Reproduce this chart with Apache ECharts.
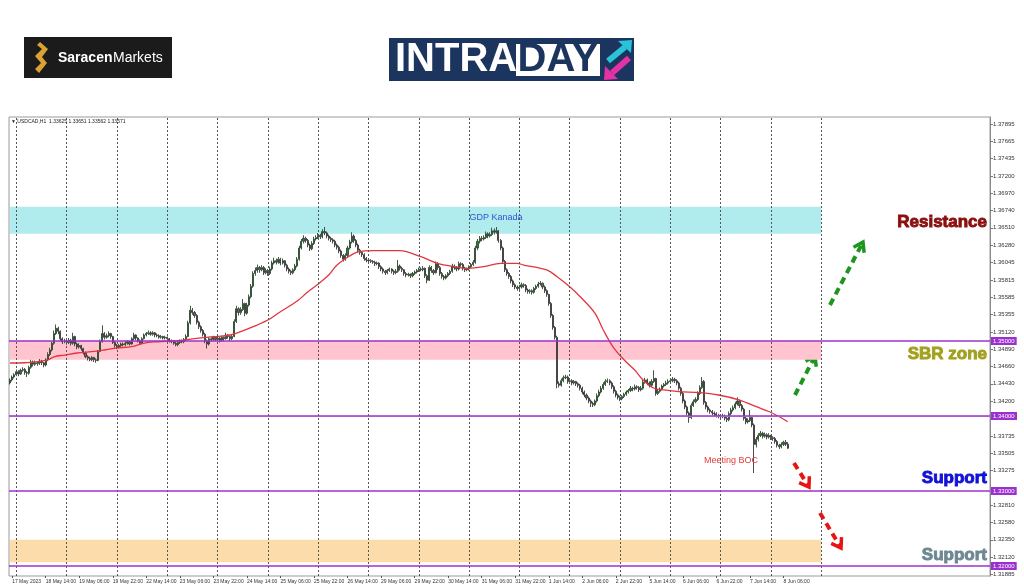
<!DOCTYPE html>
<html>
<head>
<meta charset="utf-8">
<title>USDCAD H1 - Intraday</title>
<script src="https://cdn.jsdelivr.net/npm/echarts@6.0.0/dist/echarts.min.js"></script>
<style>
  html, body { margin: 0; padding: 0; background: #ffffff; }
  #chart { width: 1024px; height: 587px; }
</style>
</head>
<body>
<div id="chart"></div>
<script>
// trading days shown on the H1 chart (weekends are skipped), first bar is 17 May 21:00
const tradingDays = ['17 May', '18 May', '19 May', '22 May', '23 May', '24 May', '25 May', '26 May', '29 May', '30 May',
  '31 May', '1 Jun', '2 Jun', '5 Jun', '6 Jun', '7 Jun', '8 Jun', '9 Jun', '12 Jun', '13 Jun', '14 Jun']
const firstHour = 21
const slotCount = 468 // bars plus the empty shift area on the right
const lastSeparator = '9 Jun 00:00'

const xTickLabels = ['17 May 2023', '18 May 14:00', '19 May 06:00', '19 May 22:00', '22 May 14:00', '23 May 06:00',
  '23 May 22:00', '24 May 14:00', '25 May 06:00', '25 May 22:00', '26 May 14:00', '29 May 06:00', '29 May 22:00',
  '30 May 14:00', '31 May 06:00', '31 May 22:00', '1 Jun 14:00', '2 Jun 06:00', '2 Jun 22:00', '5 Jun 14:00',
  '6 Jun 06:00', '6 Jun 22:00', '7 Jun 14:00', '8 Jun 06:00']

const yTicks = [1.37895, 1.37665, 1.37435, 1.37200, 1.36970, 1.36740, 1.36510, 1.36280, 1.36045, 1.35815, 1.35585,
  1.35355, 1.35120, 1.34890, 1.34660, 1.34430, 1.34200, 1.33965, 1.33735, 1.33505, 1.33275, 1.32810, 1.32580,
  1.32350, 1.32120, 1.31885]
const yMin = 1.318667
const yMax = 1.379867

// OHLC, one line per trading day
const opens = [1.3444,1.3448,1.3452,
1.3455,1.3459,1.3456,1.3461,1.3462,1.3458,1.3457,1.3465,1.3472,1.3469,1.3471,1.3470,1.3473,1.3471,1.3468,1.3475,1.3482,1.3488,1.3497,1.3510,1.3517,1.3513,1.3503,1.3499,
1.3500,1.3498,1.3501,1.3497,1.3506,1.3496,1.3492,1.3494,1.3490,1.3484,1.3479,1.3477,1.3475,1.3478,1.3475,1.3474,1.3486,1.3499,1.3510,1.3505,1.3507,1.3510,1.3506,1.3498,
1.3494,1.3492,1.3494,1.3496,1.3495,1.3497,1.3499,1.3496,1.3503,1.3508,1.3504,1.3500,1.3497,1.3503,1.3508,1.3510,1.3511,1.3509,1.3511,1.3508,1.3507,1.3505,1.3506,1.3504,
1.3505,1.3503,1.3500,1.3499,1.3497,1.3495,1.3498,1.3500,1.3499,1.3502,1.3506,1.3524,1.3541,1.3538,1.3534,1.3525,1.3519,1.3514,1.3509,1.3500,1.3496,1.3503,1.3502,1.3505,
1.3502,1.3504,1.3501,1.3505,1.3503,1.3508,1.3506,1.3503,1.3506,1.3526,1.3543,1.3538,1.3542,1.3550,1.3537,1.3548,1.3559,1.3573,1.3590,1.3594,1.3598,1.3595,1.3598,1.3591,
1.3594,1.3590,1.3596,1.3604,1.3607,1.3605,1.3609,1.3604,1.3607,1.3601,1.3596,1.3593,1.3591,1.3595,1.3600,1.3609,1.3624,1.3633,1.3637,1.3634,1.3628,1.3623,1.3630,1.3636,
1.3638,1.3641,1.3639,1.3646,1.3644,1.3640,1.3637,1.3635,1.3633,1.3628,1.3625,1.3620,1.3614,1.3609,1.3614,1.3624,1.3632,1.3640,1.3634,1.3628,1.3621,1.3618,1.3615,1.3610,
1.3608,1.3607,1.3606,1.3605,1.3603,1.3604,1.3599,1.3596,1.3593,1.3591,1.3594,1.3596,1.3593,1.3591,1.3593,1.3600,1.3597,1.3595,1.3590,1.3588,1.3589,1.3587,1.3590,1.3592,
1.3594,1.3596,1.3595,1.3597,1.3587,1.3581,1.3598,1.3594,1.3591,1.3603,1.3598,1.3590,1.3586,1.3584,1.3587,1.3590,1.3593,1.3600,1.3598,1.3596,1.3603,1.3602,1.3597,1.3595,
1.3596,1.3599,1.3602,1.3605,1.3624,1.3633,1.3637,1.3636,1.3638,1.3643,1.3640,1.3642,1.3647,1.3645,1.3647,1.3634,1.3624,1.3606,1.3595,1.3590,1.3586,1.3580,1.3575,1.3572,
1.3570,1.3572,1.3575,1.3574,1.3568,1.3566,1.3567,1.3565,1.3570,1.3573,1.3576,1.3577,1.3572,1.3567,1.3562,1.3550,1.3534,1.3518,1.3505,1.3443,1.3441,1.3447,1.3451,1.3452,
1.3446,1.3447,1.3444,1.3446,1.3443,1.3441,1.3437,1.3432,1.3428,1.3424,1.3420,1.3417,1.3415,1.3420,1.3427,1.3432,1.3437,1.3442,1.3446,1.3447,1.3444,1.3439,1.3433,1.3428,
1.3425,1.3423,1.3426,1.3429,1.3432,1.3434,1.3437,1.3436,1.3439,1.3438,1.3435,1.3437,1.3445,1.3448,1.3444,1.3441,1.3446,1.3450,1.3430,1.3433,1.3436,1.3440,1.3442,1.3444,
1.3446,1.3447,1.3449,1.3447,1.3444,1.3437,1.3430,1.3420,1.3412,1.3404,1.3398,1.3414,1.3419,1.3422,1.3430,1.3438,1.3446,1.3418,1.3412,1.3408,1.3406,1.3404,1.3403,1.3401,
1.3400,1.3399,1.3400,1.3397,1.3395,1.3403,1.3408,1.3411,1.3416,1.3420,1.3414,1.3409,1.3397,1.3392,1.3394,1.3398,1.3388,1.3362,1.3369,1.3374,1.3377,1.3373,1.3375,1.3372,
1.3374,1.3371,1.3370,1.3366,1.3361,1.3359,1.3362,1.3365,1.33625]

const highs = [1.3450,1.3454,1.3457,
1.3462,1.3461,1.3463,1.3465,1.3464,1.3460,1.3467,1.3475,1.3474,1.3474,1.3473,1.3476,1.3475,1.3472,1.3477,1.3485,1.3491,1.3499,1.3514,1.3522,1.3519,1.3514,1.3505,1.3503,
1.3502,1.3504,1.3503,1.3511,1.3507,1.3498,1.3497,1.3495,1.3491,1.3486,1.3481,1.3479,1.3480,1.3479,1.3477,1.3488,1.3502,1.3521,1.3512,1.3510,1.3513,1.3511,1.3507,1.3500,
1.3496,1.3496,1.3498,1.3498,1.3499,1.3501,1.3500,1.3505,1.3511,1.3509,1.3505,1.3502,1.3505,1.3510,1.3512,1.3514,1.3513,1.3513,1.3512,1.3510,1.3509,1.3508,1.3507,1.3507,
1.3506,1.3504,1.3502,1.3501,1.3499,1.3500,1.3502,1.3502,1.3504,1.3509,1.3527,1.3547,1.3544,1.3540,1.3536,1.3527,1.3521,1.3516,1.3511,1.3502,1.3505,1.3505,1.3507,1.3506,
1.3506,1.3505,1.3507,1.3506,1.3511,1.3509,1.3507,1.3509,1.3529,1.3547,1.3545,1.3545,1.3556,1.3551,1.3551,1.3562,1.3576,1.3593,1.3598,1.3602,1.3600,1.3601,1.3600,1.3597,
1.3596,1.3599,1.3607,1.3611,1.3610,1.3612,1.3611,1.3610,1.3608,1.3603,1.3598,1.3595,1.3597,1.3603,1.3612,1.3627,1.3636,1.3641,1.3639,1.3636,1.3630,1.3633,1.3639,1.3641,
1.3644,1.3643,1.3649,1.3652,1.3646,1.3642,1.3639,1.3637,1.3635,1.3630,1.3627,1.3622,1.3616,1.3617,1.3627,1.3635,1.3645,1.3642,1.3636,1.3630,1.3623,1.3620,1.3617,1.3612,
1.3610,1.3609,1.3608,1.3607,1.3606,1.3605,1.3601,1.3598,1.3595,1.3596,1.3598,1.3597,1.3595,1.3596,1.3608,1.3602,1.3599,1.3596,1.3592,1.3591,1.3590,1.3592,1.3594,1.3596,
1.3598,1.3598,1.3600,1.3598,1.3589,1.3601,1.3600,1.3596,1.3606,1.3605,1.3600,1.3592,1.3588,1.3589,1.3592,1.3595,1.3603,1.3602,1.3600,1.3606,1.3605,1.3604,1.3599,1.3598,
1.3601,1.3604,1.3608,1.3627,1.3636,1.3640,1.3640,1.3641,1.3646,1.3645,1.3645,1.3651,1.3650,1.3652,1.3648,1.3636,1.3626,1.3608,1.3597,1.3592,1.3588,1.3582,1.3577,1.3574,
1.3575,1.3578,1.3577,1.3576,1.3570,1.3569,1.3569,1.3572,1.3575,1.3579,1.3580,1.3578,1.3574,1.3569,1.3563,1.3552,1.3536,1.3520,1.3507,1.3446,1.3450,1.3454,1.3455,1.3454,
1.3450,1.3449,1.3448,1.3447,1.3445,1.3443,1.3439,1.3434,1.3430,1.3426,1.3422,1.3419,1.3422,1.3430,1.3435,1.3440,1.3445,1.3449,1.3450,1.3449,1.3446,1.3441,1.3435,1.3430,
1.3427,1.3428,1.3431,1.3434,1.3436,1.3440,1.3439,1.3442,1.3441,1.3440,1.3440,1.3448,1.3451,1.3450,1.3446,1.3449,1.3461,1.3451,1.3436,1.3438,1.3442,1.3444,1.3447,1.3449,
1.3450,1.3452,1.3451,1.3449,1.3446,1.3439,1.3432,1.3422,1.3414,1.3406,1.3417,1.3422,1.3425,1.3433,1.3441,1.3452,1.3448,1.3420,1.3414,1.3410,1.3408,1.3406,1.3405,1.3403,
1.3402,1.3403,1.3402,1.3399,1.3406,1.3411,1.3414,1.3419,1.3425,1.3422,1.3416,1.3411,1.3399,1.3397,1.3408,1.3400,1.3390,1.3372,1.3377,1.3380,1.3379,1.3378,1.3377,1.3377,
1.3375,1.3373,1.3372,1.3368,1.3363,1.3365,1.3367,1.3368,1.33651]

const lows = [1.3442,1.3446,1.3450,
1.3453,1.3453,1.3455,1.3459,1.3455,1.3452,1.3455,1.3463,1.3466,1.3467,1.3467,1.3468,1.3468,1.3465,1.3466,1.3473,1.3480,1.3486,1.3495,1.3508,1.3509,1.3500,1.3496,1.3497,
1.3495,1.3496,1.3494,1.3495,1.3493,1.3489,1.3490,1.3487,1.3482,1.3477,1.3474,1.3473,1.3473,1.3472,1.3471,1.3473,1.3485,1.3498,1.3502,1.3503,1.3505,1.3503,1.3496,1.3491,
1.3489,1.3490,1.3492,1.3493,1.3493,1.3495,1.3494,1.3495,1.3501,1.3501,1.3498,1.3495,1.3496,1.3502,1.3506,1.3508,1.3507,1.3507,1.3505,1.3505,1.3503,1.3503,1.3502,1.3502,
1.3501,1.3498,1.3497,1.3495,1.3493,1.3493,1.3496,1.3497,1.3497,1.3500,1.3505,1.3522,1.3535,1.3531,1.3522,1.3516,1.3511,1.3506,1.3497,1.3490,1.3494,1.3499,1.3500,1.3500,
1.3500,1.3498,1.3499,1.3500,1.3502,1.3503,1.3500,1.3501,1.3505,1.3524,1.3534,1.3535,1.3540,1.3533,1.3535,1.3546,1.3557,1.3571,1.3587,1.3591,1.3591,1.3593,1.3588,1.3589,
1.3587,1.3588,1.3594,1.3602,1.3602,1.3603,1.3601,1.3602,1.3598,1.3593,1.3590,1.3588,1.3589,1.3593,1.3598,1.3607,1.3622,1.3630,1.3631,1.3625,1.3620,1.3621,1.3628,1.3634,
1.3636,1.3636,1.3637,1.3641,1.3637,1.3634,1.3632,1.3630,1.3625,1.3622,1.3617,1.3611,1.3606,1.3607,1.3612,1.3622,1.3630,1.3631,1.3625,1.3618,1.3615,1.3612,1.3607,1.3605,
1.3605,1.3604,1.3603,1.3600,1.3601,1.3596,1.3593,1.3590,1.3588,1.3589,1.3592,1.3590,1.3588,1.3589,1.3591,1.3594,1.3592,1.3587,1.3585,1.3586,1.3584,1.3585,1.3588,1.3590,
1.3592,1.3593,1.3593,1.3584,1.3577,1.3580,1.3591,1.3588,1.3590,1.3595,1.3587,1.3583,1.3581,1.3582,1.3585,1.3588,1.3591,1.3595,1.3593,1.3594,1.3599,1.3594,1.3592,1.3593,
1.3594,1.3597,1.3600,1.3603,1.3621,1.3630,1.3633,1.3634,1.3636,1.3637,1.3638,1.3640,1.3642,1.3643,1.3631,1.3621,1.3603,1.3592,1.3587,1.3583,1.3577,1.3572,1.3569,1.3567,
1.3568,1.3570,1.3571,1.3565,1.3563,1.3563,1.3562,1.3563,1.3568,1.3571,1.3574,1.3569,1.3564,1.3559,1.3547,1.3531,1.3515,1.3502,1.3437,1.3438,1.3439,1.3445,1.3449,1.3443,
1.3444,1.3441,1.3442,1.3440,1.3438,1.3434,1.3429,1.3425,1.3421,1.3417,1.3412,1.3412,1.3413,1.3418,1.3425,1.3430,1.3435,1.3440,1.3444,1.3441,1.3436,1.3430,1.3425,1.3422,
1.3420,1.3421,1.3424,1.3427,1.3430,1.3432,1.3433,1.3434,1.3435,1.3432,1.3433,1.3435,1.3443,1.3441,1.3438,1.3439,1.3444,1.3427,1.3428,1.3431,1.3434,1.3438,1.3440,1.3442,
1.3444,1.3445,1.3444,1.3441,1.3434,1.3427,1.3417,1.3409,1.3401,1.3391,1.3396,1.3412,1.3417,1.3420,1.3428,1.3436,1.3415,1.3409,1.3405,1.3403,1.3401,1.3400,1.3398,1.3397,
1.3396,1.3397,1.3394,1.3392,1.3393,1.3401,1.3406,1.3409,1.3414,1.3411,1.3406,1.3394,1.3389,1.3390,1.3392,1.3385,1.3324,1.3358,1.3366,1.3372,1.3370,1.3371,1.3369,1.3370,
1.3368,1.3367,1.3363,1.3358,1.3356,1.3357,1.3360,1.3360,1.33562]

const closes = [1.3448,1.3452,1.3455,
1.3459,1.3456,1.3461,1.3462,1.3458,1.3457,1.3465,1.3472,1.3469,1.3471,1.3470,1.3473,1.3471,1.3468,1.3475,1.3482,1.3488,1.3497,1.3510,1.3517,1.3513,1.3503,1.3499,1.3500,
1.3498,1.3501,1.3497,1.3506,1.3496,1.3492,1.3494,1.3490,1.3484,1.3479,1.3477,1.3475,1.3478,1.3475,1.3474,1.3486,1.3499,1.3510,1.3505,1.3507,1.3510,1.3506,1.3498,1.3494,
1.3492,1.3494,1.3496,1.3495,1.3497,1.3499,1.3496,1.3503,1.3508,1.3504,1.3500,1.3497,1.3503,1.3508,1.3510,1.3511,1.3509,1.3511,1.3508,1.3507,1.3505,1.3506,1.3504,1.3505,
1.3503,1.3500,1.3499,1.3497,1.3495,1.3498,1.3500,1.3499,1.3502,1.3506,1.3524,1.3541,1.3538,1.3534,1.3525,1.3519,1.3514,1.3509,1.3500,1.3496,1.3503,1.3502,1.3505,1.3502,
1.3504,1.3501,1.3505,1.3503,1.3508,1.3506,1.3503,1.3506,1.3526,1.3543,1.3538,1.3542,1.3550,1.3537,1.3548,1.3559,1.3573,1.3590,1.3594,1.3598,1.3595,1.3598,1.3591,1.3594,
1.3590,1.3596,1.3604,1.3607,1.3605,1.3609,1.3604,1.3607,1.3601,1.3596,1.3593,1.3591,1.3595,1.3600,1.3609,1.3624,1.3633,1.3637,1.3634,1.3628,1.3623,1.3630,1.3636,1.3638,
1.3641,1.3639,1.3646,1.3644,1.3640,1.3637,1.3635,1.3633,1.3628,1.3625,1.3620,1.3614,1.3609,1.3614,1.3624,1.3632,1.3640,1.3634,1.3628,1.3621,1.3618,1.3615,1.3610,1.3608,
1.3607,1.3606,1.3605,1.3603,1.3604,1.3599,1.3596,1.3593,1.3591,1.3594,1.3596,1.3593,1.3591,1.3593,1.3600,1.3597,1.3595,1.3590,1.3588,1.3589,1.3587,1.3590,1.3592,1.3594,
1.3596,1.3595,1.3597,1.3587,1.3581,1.3598,1.3594,1.3591,1.3603,1.3598,1.3590,1.3586,1.3584,1.3587,1.3590,1.3593,1.3600,1.3598,1.3596,1.3603,1.3602,1.3597,1.3595,1.3596,
1.3599,1.3602,1.3605,1.3624,1.3633,1.3637,1.3636,1.3638,1.3643,1.3640,1.3642,1.3647,1.3645,1.3647,1.3634,1.3624,1.3606,1.3595,1.3590,1.3586,1.3580,1.3575,1.3572,1.3570,
1.3572,1.3575,1.3574,1.3568,1.3566,1.3567,1.3565,1.3570,1.3573,1.3576,1.3577,1.3572,1.3567,1.3562,1.3550,1.3534,1.3518,1.3505,1.3443,1.3441,1.3447,1.3451,1.3452,1.3446,
1.3447,1.3444,1.3446,1.3443,1.3441,1.3437,1.3432,1.3428,1.3424,1.3420,1.3417,1.3415,1.3420,1.3427,1.3432,1.3437,1.3442,1.3446,1.3447,1.3444,1.3439,1.3433,1.3428,1.3425,
1.3423,1.3426,1.3429,1.3432,1.3434,1.3437,1.3436,1.3439,1.3438,1.3435,1.3437,1.3445,1.3448,1.3444,1.3441,1.3446,1.3450,1.3430,1.3433,1.3436,1.3440,1.3442,1.3444,1.3446,
1.3447,1.3449,1.3447,1.3444,1.3437,1.3430,1.3420,1.3412,1.3404,1.3398,1.3414,1.3419,1.3422,1.3430,1.3438,1.3446,1.3418,1.3412,1.3408,1.3406,1.3404,1.3403,1.3401,1.3400,
1.3399,1.3400,1.3397,1.3395,1.3403,1.3408,1.3411,1.3416,1.3420,1.3414,1.3409,1.3397,1.3392,1.3394,1.3398,1.3388,1.3362,1.3369,1.3374,1.3377,1.3373,1.3375,1.3372,1.3374,
1.3371,1.3370,1.3366,1.3361,1.3359,1.3362,1.3365,1.33625,1.33571]

// moving average (red line), read at these bar indexes
const maIndex = [0,7,13,18,21,26,32,39,45,51,58,64,70,83,89,97,105,110,116,123,129,137,142,147,152,156,162,166,174,186,
  196,204,212,218,226,234,242,245,256,261,267,272,279,283,288,293,298,302,307,312,319,329,338,348,356,362,367,371]
const maValues = [1.34707,1.34710,1.34724,1.34747,1.34790,1.34813,1.34840,1.34857,1.34880,1.34907,1.34924,1.34973,
  1.34990,1.35013,1.35036,1.35057,1.35080,1.35124,1.35191,1.35280,1.35391,1.35533,1.35653,1.35760,1.35880,1.36013,
  1.36133,1.36187,1.36204,1.36204,1.36124,1.36036,1.35991,1.35969,1.35991,1.36036,1.36036,1.36013,1.35947,1.35857,
  1.35724,1.35591,1.35373,1.35147,1.34907,1.34747,1.34613,1.34480,1.34373,1.34347,1.34324,1.34311,1.34280,1.34213,
  1.34124,1.34060,1.33990,1.33924]

// zones and levels
const zoneTops = [1.3679, 1.3500, 1.3235]
const zoneBottoms = [1.3643, 1.3475, 1.3205]
const zoneColors = ['#b0ecee', '#ffc4cf', '#fddcab']
const levels = [1.35, 1.34, 1.33, 1.32]
const lastPrice = 1.33571

const categories = []
for (let d = 0, h = firstHour; categories.length < slotCount;) {
  categories.push(tradingDays[d] + ' ' + String(h).padStart(2, '0') + ':00')
  h++
  if (h === 24) { h = 0; d++ }
}
const lastSepIndex = categories.indexOf(lastSeparator)
const separators = categories.filter((c, i) => c.endsWith(' 00:00') && i <= lastSepIndex)

const labelAt = (index) => index % 16 === 1 && (index - 1) / 16 < xTickLabels.length

const FONT = '"Liberation Sans", Arial, sans-serif'
const purple = '#9b30d0'

function dashedArrow(x1, y1, x2, y2, color) {
  const len = Math.hypot(x2 - x1, y2 - y1)
  const ux = (x2 - x1) / len, uy = (y2 - y1) / len
  const bx = x2 - ux * 9, by = y2 - uy * 9
  return [
    { type: 'line', shape: { x1: x1, y1: y1, x2: x2 - ux * 3, y2: y2 - uy * 3 },
      style: { stroke: color, lineWidth: 4, lineDash: [7, 5] } },
    { type: 'polyline', shape: { points: [[bx - uy * 6, by + ux * 6], [x2, y2], [bx + uy * 6, by - ux * 6]] },
      style: { stroke: color, lineWidth: 3.5, fill: null } }
  ]
}

function label(text, x, y, size, color, align, weight, heavy) {
  const style = { text: text, fill: color, font: (weight || 'normal') + ' ' + size + 'px ' + FONT,
    textAlign: align || 'left', textVerticalAlign: 'middle', verticalAlign: 'middle' }
  if (heavy) { style.stroke = color; style.lineWidth = 0.9 }
  return { type: 'text', x: x, y: y, z: 100, style: style }
}

const graphics = [
  // Saracen Markets logo
  { type: 'rect', shape: { x: 24, y: 37, width: 148, height: 41 }, style: { fill: '#1b1b1b' } },
  { type: 'polygon', shape: { points: [[40, 42], [48, 49], [42, 57], [47, 63], [39, 73], [35, 69], [41, 63], [35, 56], [42, 49], [37, 45]] },
    style: { fill: '#d9a233' } },
  label('Saracen', 58, 58, 14, '#ffffff', 'left', 'bold'),
  label('Markets', 113, 58, 14, '#ffffff', 'left'),
  // INTRADAY logo
  { type: 'rect', shape: { x: 389, y: 38, width: 245, height: 43 }, style: { fill: '#1c355e' } },
  label('INTRA', 395, 60, 40, '#ffffff', 'left', 'bold'),
  { type: 'rect', shape: { x: 516, y: 44, width: 84, height: 32 }, style: { fill: '#ffffff' } },
  label('DAY', 558, 60, 40, '#1c355e', 'center', 'bold'),
  { type: 'polyline', shape: { points: [[608, 61], [625, 47]] }, style: { stroke: '#29c4d9', lineWidth: 6 } },
  { type: 'polygon', shape: { points: [[632, 40], [618, 41], [631, 53]] }, style: { fill: '#29c4d9' } },
  { type: 'polyline', shape: { points: [[629, 58], [612, 73]] }, style: { stroke: '#e331a6', lineWidth: 6 } },
  { type: 'polygon', shape: { points: [[604, 80], [618, 79], [605, 66]] }, style: { fill: '#e331a6' } },
  // chart header
  label('\u25BC USDCAD,H1  1.33625 1.33651 1.33562 1.33571', 11, 122, 5, '#222222'),
  // annotations
  label('GDP Kanada', 496, 218, 9, '#3452cf', 'center'),
  label('Meeting BOC', 731, 461, 9, '#e23a3a', 'center'),
  label('Resistance', 987, 222, 17, '#8a0f0f', 'right', 'bold', true),
  label('SBR zone', 987, 354, 17, '#a2a01e', 'right', 'bold', true),
  label('Support', 987, 478, 17, '#1212d6', 'right', 'bold', true),
  label('Support', 987, 555, 17, '#6e8891', 'right', 'bold', true)
].concat(
  dashedArrow(830, 305, 863, 242, '#1e961e'),
  dashedArrow(795, 395, 815, 356, '#1e961e'),
  dashedArrow(794, 463, 809, 487, '#e81414'),
  dashedArrow(820, 513, 841, 548, '#e81414')
)

const chart = echarts.init(document.getElementById('chart'))
chart.setOption({
  animation: false,
  backgroundColor: '#ffffff',
  grid: { left: 9, right: 34, top: 117, bottom: 11, show: true, borderColor: '#9a9a9a', borderWidth: 1,
    outerBoundsMode: 'none' },
  xAxis: {
    type: 'category',
    data: categories,
    boundaryGap: true,
    axisLine: { show: false },
    axisTick: { show: true, alignWithLabel: true, interval: labelAt, length: 2, lineStyle: { color: '#555' } },
    axisLabel: {
      interval: labelAt,
      formatter: (v, i) => xTickLabels[(i - 1) / 16],
      align: 'left', fontSize: 5, color: '#333', margin: 3, fontFamily: FONT
    },
    splitLine: { show: false }
  },
  yAxis: {
    type: 'value',
    position: 'right',
    min: yMin,
    max: yMax,
    axisLine: { show: true, lineStyle: { color: '#8a8a8a' } },
    axisTick: { show: true, customValues: yTicks, length: 3, lineStyle: { color: '#777' } },
    axisLabel: { customValues: yTicks, formatter: v => v.toFixed(5), fontSize: 6, color: '#333', margin: 3, fontFamily: FONT },
    splitLine: { show: false }
  },
  series: [
    {
      name: 'zones', type: 'line', data: [], z: 1, silent: true,
      markArea: {
        silent: true,
        data: zoneTops.map((top, k) => [
          { xAxis: categories[0], yAxis: top, itemStyle: { color: zoneColors[k], opacity: 1 } },
          { xAxis: lastSeparator, yAxis: zoneBottoms[k] }
        ])
      }
    },
    {
      name: 'levels', type: 'line', data: [], z: 2, silent: true,
      markLine: {
        silent: true,
        symbol: ['none', 'none'],
        animation: false,
        data: separators.map(c => ({
          xAxis: c, label: { show: false }, lineStyle: { color: '#555', width: 1, type: [2, 2] }
        })).concat([{
          yAxis: lastPrice,
          lineStyle: { color: '#d8d8d8', width: 1, type: 'solid' },
          label: { show: true, position: 'end', formatter: lastPrice.toFixed(5), backgroundColor: '#111',
            color: '#fff', fontSize: 6, padding: [1, 2], distance: 1, fontFamily: FONT }
        }]).concat(levels.map(v => ({
          yAxis: v,
          lineStyle: { color: purple, width: 1.5, type: 'solid' },
          label: { show: true, position: 'end', formatter: v.toFixed(5), backgroundColor: purple,
            color: '#fff', fontSize: 6, padding: [1, 2], distance: 1, fontFamily: FONT }
        })))
      }
    },
    {
      name: 'USDCAD,H1', type: 'candlestick', z: 3,
      barWidth: '75%',
      data: opens.map((o, i) => [o, closes[i], lows[i], highs[i]]),
      itemStyle: { color: '#2f7d33', color0: '#6a6a6a', borderColor: '#2f4a2f', borderColor0: '#3a3a3a', borderWidth: 0.9 }
    },
    {
      name: 'MA', type: 'line', z: 4,
      data: maIndex.map((x, k) => [x, maValues[k]]),
      smooth: 0.35, showSymbol: false, symbol: 'none',
      lineStyle: { color: '#e2353d', width: 1.3 }
    }
  ],
  graphic: { elements: graphics }
})
</script>
</body>
</html>
